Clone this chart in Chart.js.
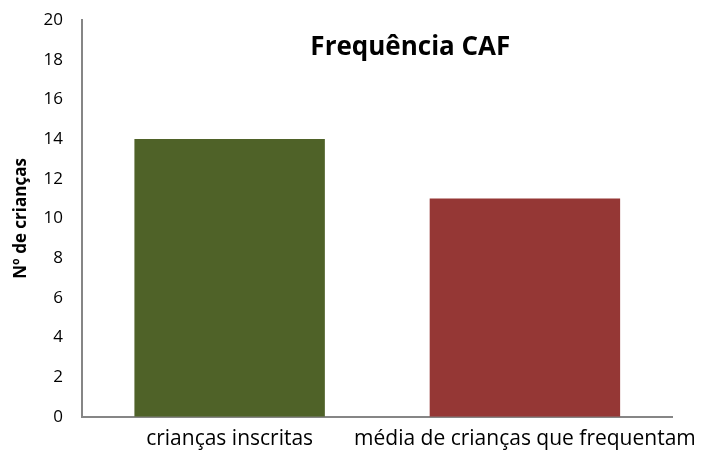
<!DOCTYPE html>
<html>
<head>
<meta charset="utf-8">
<script src="https://cdn.jsdelivr.net/npm/chart.js@4.4.0/dist/chart.umd.min.js"></script>
<style>
  html, body { margin: 0; padding: 0; background: #fff; }
  #wrap { width: 714px; height: 468px; }
</style>
</head>
<body>
<div id="wrap"><canvas id="cafChart" width="714" height="468"></canvas></div>
<script>
var categorias = ["crianças inscritas", "média de crianças que frequentam"];
var valores = [14, 11];
var cores = ["#4f6228", "#953735"];

var titlePlugin = {
	id: 'innerTitle',
	afterDraw: function(chart) {
		var a = chart.chartArea;
		var ctx = chart.ctx;
		ctx.save();
		ctx.font = "bold 26px 'Open Sans', sans-serif";
		ctx.fillStyle = "#000";
		ctx.textAlign = "center";
		ctx.textBaseline = "middle";
		ctx.fillText("Frequência CAF", a.left + (a.right - a.left) * 0.556, a.top + 28);
		ctx.restore();
	}
};

var ctx = document.getElementById("cafChart").getContext("2d");
new Chart(ctx, {
	type: 'bar',
	data: {
		labels: categorias,
		datasets: [{
			data: valores,
			backgroundColor: cores,
			barPercentage: 0.645,
			categoryPercentage: 1
		}]
	},
	options: {
		responsive: false,
		animation: false,
		layout: { padding: { top: 20, right: 33, bottom: 6, left: 0 } },
		plugins: { legend: { display: false }, tooltip: { enabled: false } },
		scales: {
			x: {
				grid: { display: false, drawTicks: false },
				border: { color: "#868686", width: 2 },
				ticks: { color: "#000", font: { family: "'Open Sans', sans-serif", size: 21 }, padding: 10, maxRotation: 0, autoSkip: false }
			},
			y: {
				min: 0, max: 20,
				grid: { display: false, drawTicks: false },
				border: { color: "#868686", width: 2 },
				ticks: { stepSize: 2, color: "#000", font: { family: "'Open Sans', sans-serif", size: 17 }, padding: 19 },
				title: { display: true, text: "Nº de crianças", color: "#000", font: { family: "'Open Sans', sans-serif", size: 17, weight: 'bold' }, padding: 11 },
				afterFit: function(scale) {
					scale.width = 82;
					scale.paddingTop = 10;
					scale.paddingBottom = 10;
				}
			}
		}
	},
	plugins: [titlePlugin]
});
</script>
</body>
</html>
